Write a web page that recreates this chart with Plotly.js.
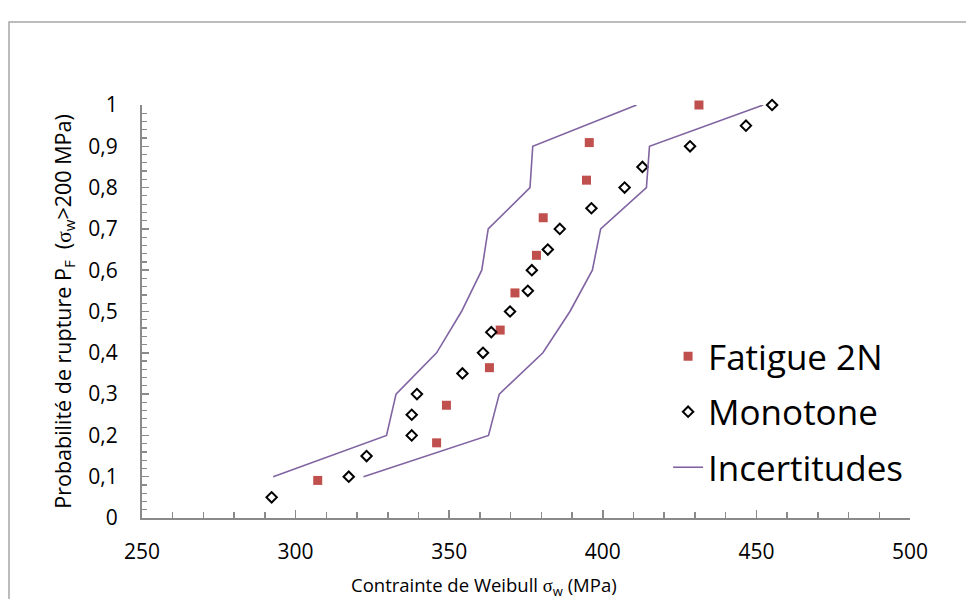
<!DOCTYPE html>
<html>
<head>
<meta charset="utf-8">
<script src="https://cdn.plot.ly/plotly-3.0.1.min.js"></script>
<style>
  html, body { margin: 0; padding: 0; background: #ffffff; }
  #chart { width: 966px; height: 599px; }
</style>
</head>
<body>
<div id="chart"></div>
<script>
// ---- Data ----
const fatigueX = [307.2, 345.9, 349.1, 363.1, 366.6, 371.4, 378.4, 380.6, 394.7, 395.6, 431.3];
const fatigueY = [0.091, 0.182, 0.273, 0.364, 0.455, 0.545, 0.636, 0.727, 0.818, 0.909, 1.0];

const monoX = [292.2, 317.3, 323.1, 337.8, 337.8, 339.5, 354.3, 361.0, 363.7, 369.8,
               375.6, 376.9, 382.1, 386.0, 396.3, 407.1, 412.9, 428.4, 446.6, 455.1];
const monoY = [0.05, 0.10, 0.15, 0.20, 0.25, 0.30, 0.35, 0.40, 0.45, 0.50,
               0.55, 0.60, 0.65, 0.70, 0.75, 0.80, 0.85, 0.90, 0.95, 1.00];

const incLowX = [292.7, 329.6, 332.7, 345.9, 354.0, 360.6, 362.7, 376.3, 377.2, 411.0];
const incLowY = [0.1, 0.2, 0.3, 0.4, 0.5, 0.6, 0.7, 0.8, 0.9, 1.0];
const incHighX = [322.1, 362.8, 366.3, 380.5, 389.3, 396.6, 399.3, 414.2, 415.2, 452.2];
const incHighY = [0.1, 0.2, 0.3, 0.4, 0.5, 0.6, 0.7, 0.8, 0.9, 1.0];

const xTickVals = [250, 300, 350, 400, 450, 500];
const xTickText = ['250', '300', '350', '400', '450', '500'];
const yTickVals = [0, 0.1, 0.2, 0.3, 0.4, 0.5, 0.6, 0.7, 0.8, 0.9, 1];
const yTickText = ['0', '0,1', '0,2', '0,3', '0,4', '0,5', '0,6', '0,7', '0,8', '0,9', '1'];

const seriesNames = ['Fatigue 2N', 'Monotone', 'Incertitudes'];

// ---- Styles ----
const FONT = '"Open Sans", Lato, "DejaVu Sans", sans-serif';
const AXIS_GRAY = '#8a8a8a';
const RED = '#C0504D';
const PURPLE = '#8064A2';

const traces = [
  {
    x: fatigueX, y: fatigueY, name: seriesNames[0], type: 'scatter', mode: 'markers',
    legendgroup: 'a', cliponaxis: false,
    marker: { symbol: 'square', size: 9, color: RED }
  },
  {
    x: monoX, y: monoY, name: seriesNames[1], type: 'scatter', mode: 'markers',
    legendgroup: 'b', cliponaxis: false,
    marker: { symbol: 'diamond-open', size: 8, color: '#000000', line: { width: 2, color: '#000000' } }
  },
  {
    x: incLowX, y: incLowY, name: seriesNames[2], type: 'scatter', mode: 'lines',
    legendgroup: 'c', cliponaxis: false,
    line: { color: PURPLE, width: 1.6 }
  },
  {
    x: incHighX, y: incHighY, name: seriesNames[2], type: 'scatter', mode: 'lines',
    legendgroup: 'c', showlegend: false, cliponaxis: false,
    line: { color: PURPLE, width: 1.6 }
  }
];

const layout = {
  width: 966, height: 599,
  margin: { l: 142, r: 56, t: 105, b: 81 },
  paper_bgcolor: '#ffffff', plot_bgcolor: '#ffffff',
  font: { family: FONT, color: '#000000' },
  showlegend: true,
  legend: {
    x: 0.685, y: 0.4625, xanchor: 'left', yanchor: 'top',
    font: { family: FONT, size: 35, color: '#000000' },
    bgcolor: 'rgba(0,0,0,0)', borderwidth: 0,
    traceorder: 'grouped', tracegroupgap: 7,
    itemwidth: 30
  },
  xaxis: {
    range: [250, 500], showgrid: false, zeroline: false,
    showline: true, linecolor: AXIS_GRAY, linewidth: 2,
    tickmode: 'array', tickvals: xTickVals, ticktext: xTickText,
    ticks: 'inside', ticklen: 8, tickwidth: 1.5, tickcolor: AXIS_GRAY,
    ticklabelstandoff: 14,
    minor: { dtick: 10, ticks: 'inside', ticklen: 6, tickwidth: 1.5, tickcolor: AXIS_GRAY, showgrid: false },
    tickfont: { family: FONT, size: 21, color: '#000000' },
    fixedrange: true
  },
  yaxis: {
    range: [0, 1], showgrid: false, zeroline: false,
    showline: true, linecolor: AXIS_GRAY, linewidth: 2,
    tickmode: 'array', tickvals: yTickVals, ticktext: yTickText,
    ticks: 'inside', ticklen: 7, tickwidth: 1.5, tickcolor: AXIS_GRAY,
    ticklabelstandoff: 18,
    minor: { dtick: 0.02, ticks: 'inside', ticklen: 5, tickwidth: 1.2, tickcolor: AXIS_GRAY, showgrid: false },
    tickfont: { family: FONT, size: 21, color: '#000000' },
    title: {
      text: 'Probabilité de rupture P<sub>F</sub>  (<span style="font-family:\'Liberation Serif\',serif">σ</span><sub>w</sub>&gt;200 MPa)',
      font: { family: FONT, size: 21.5, color: '#000000' },
      standoff: 11
    },
    fixedrange: true
  },
  annotations: [
    {
      xref: 'paper', yref: 'paper',
      x: (484 - 142) / 768, y: -0.165, xanchor: 'center', yanchor: 'middle',
      showarrow: false,
      text: 'Contrainte de Weibull <span style="font-family:\'Liberation Serif\',serif">σ</span><sub>w</sub> (MPa)',
      font: { family: FONT, size: 18.5, color: '#000000' }
    }
  ],
  shapes: [
    {
      type: 'rect', xref: 'paper', yref: 'paper', layer: 'below',
      x0: (9 - 142) / 768, x1: (975 - 142) / 768,
      y0: (518 - 610) / 413, y1: (518 - 22) / 413,
      line: { color: '#a6a6a6', width: 1.5 }, fillcolor: 'rgba(0,0,0,0)'
    }
  ]
};

Plotly.newPlot('chart', traces, layout, { displayModeBar: false, staticPlot: true });
</script>
</body>
</html>
